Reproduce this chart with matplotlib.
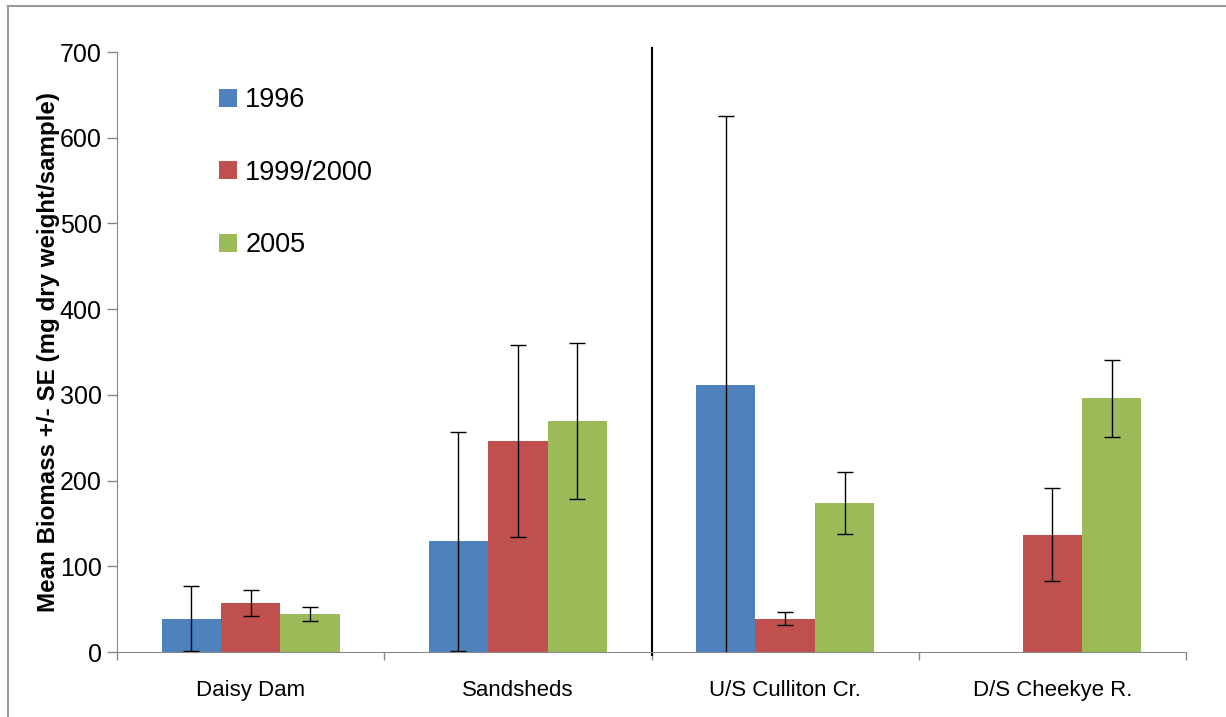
import numpy as np
import matplotlib.pyplot as plt
from matplotlib.lines import Line2D

# data
sites = ['Daisy Dam', 'Sandsheds', 'U/S Culliton Cr.', 'D/S Cheekye R.']
years = ['1996', '1999/2000', '2005']
mean_1996 = [39, 129, 311, np.nan]
mean_1999 = [57, 246, 39, 137]
mean_2005 = [44, 270, 174, 296]
se_1996 = [38, 128, 314, np.nan]
se_1999 = [15, 112, 8, 54]
se_2005 = [8, 91, 36, 45]
colors = ['#4F81BD', '#C0504D', '#9BBB59']

plt.rcParams['font.family'] = ['Liberation Sans', 'DejaVu Sans']

fig = plt.figure(figsize=(12.26, 7.17), dpi=100)
ax = fig.add_axes([117/1226, 1 - 652/717, (1186 - 117)/1226, 600/717])

x = np.arange(len(sites))
w = 1/4.5
means = [mean_1996, mean_1999, mean_2005]
ses = [se_1996, se_1999, se_2005]
for i in range(3):
    ax.bar(x + (i - 1)*w, means[i], w, color=colors[i], label=years[i])
    ax.errorbar(x + (i - 1)*w, means[i], yerr=ses[i], fmt='none', ecolor='black',
                elinewidth=1, capsize=6, capthick=1)

ax.set_xlim(-0.5, 3.5)
ax.set_ylim(0, 700)
ax.set_yticks(range(0, 701, 100))
ax.set_xticks(x)
ax.set_xticklabels(sites, fontsize=16)
ax.tick_params(axis='x', length=0, pad=20)
ax.set_xticks([-0.5, 0.5, 1.5, 2.5, 3.5], minor=True)
ax.tick_params(axis='x', which='minor', length=6, color='#888888', width=1)
ax.tick_params(axis='y', length=7, color='#888888', width=1, labelsize=18, pad=4)
for s in ['top', 'right']:
    ax.spines[s].set_visible(False)
for s in ['left', 'bottom']:
    ax.spines[s].set_color('#888888')
ax.set_ylabel('Mean Biomass +/- SE (mg dry weight/sample)', fontsize=17.4,
              fontweight='bold', labelpad=0)

# separator between sites
ax.plot([1.5, 1.5], [-3, 705], color='black', linewidth=1.5, clip_on=False)

leg = ax.legend(loc='upper left', bbox_to_anchor=(0.073, 0.982), frameon=False,
                fontsize=19.5, handlelength=0.65, handleheight=0.65,
                labelspacing=1.72, handletextpad=0.3)

# outer chart frame
fig.add_artist(Line2D([8/1226, 8/1226], [0, 1 - 6/717], color='#999999', linewidth=1.5))
fig.add_artist(Line2D([8/1226, 1], [1 - 6/717, 1 - 6/717], color='#999999', linewidth=1.5))

plt.savefig('out.png', dpi=100)
